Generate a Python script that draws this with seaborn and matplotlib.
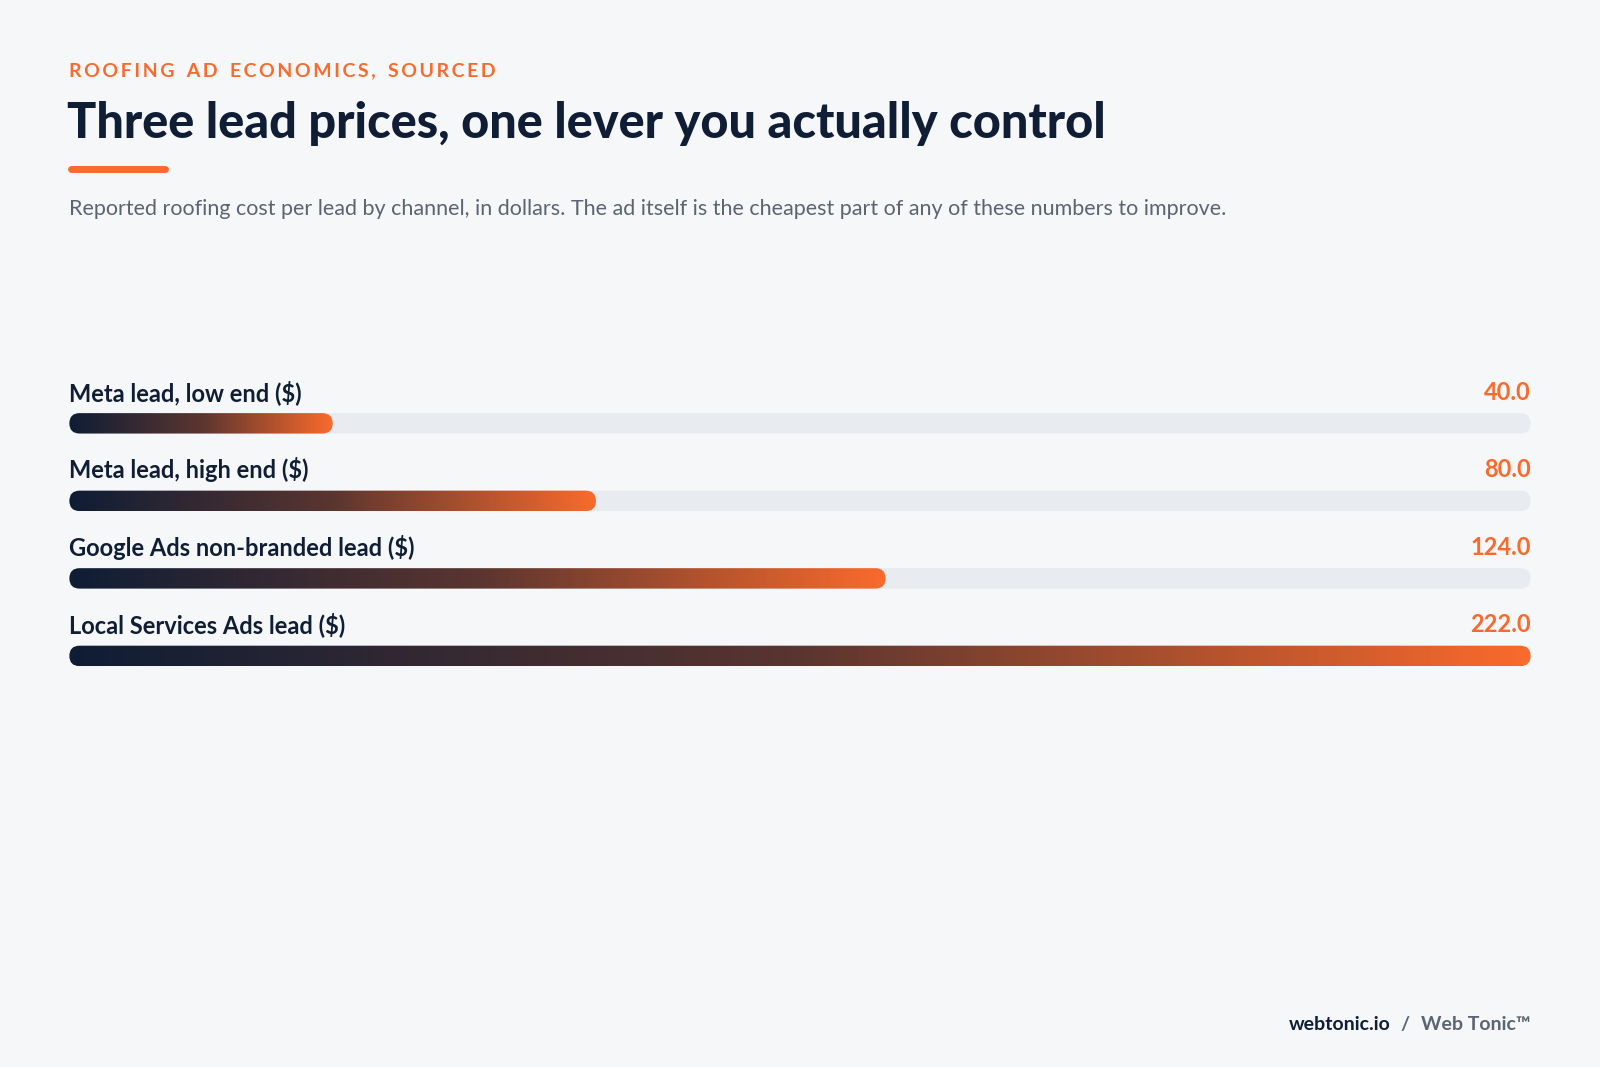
import numpy as np
import pandas as pd
import matplotlib.pyplot as plt
import seaborn as sns
from matplotlib.patches import FancyBboxPatch
from matplotlib.colors import LinearSegmentedColormap

# Data
channels = ["Meta lead, low end ($)", "Meta lead, high end ($)",
            "Google Ads non-branded lead ($)", "Local Services Ads lead ($)"]
cost = [40.0, 80.0, 124.0, 222.0]
axis_max = 222.0

NAVY = "#0f1d35"
ORANGE = "#f96a2c"
TRACK = "#e8ebef"
BG = "#f6f7f9"
GRAY = "#5b6472"

sns.set_theme(style="white")
plt.rcParams['font.family'] = ['Lato', 'DejaVu Sans']

fig = plt.figure(figsize=(16, 10.67), dpi=100, facecolor=BG)
W, H = 1568, 1046  # reference pixel frame
def fx(x): return x / W
def fy(y): return 1 - y / H

# header
kicker = "ROOFING AD ECONOMICS, SOURCED"
kicker = "\u2009".join(kicker).replace("\u2009 \u2009", "\u2002\u2009")
fig.text(fx(68), fy(69), kicker, color=ORANGE, fontsize=14, fontweight='bold', va='center')
fig.text(fx(66), fy(121), "Three lead prices, one lever you actually control",
         color=NAVY, fontsize=35, fontweight='black', va='center')
fig.add_artist(plt.Line2D([fx(70), fx(162)], [fy(166), fy(166)], color=ORANGE,
                          lw=5, solid_capstyle='round'))
fig.text(fx(68), fy(205), "Reported roofing cost per lead by channel, in dollars. The ad itself is the cheapest part of any of these numbers to improve.",
         color=GRAY, fontsize=15.5, va='center')
fig.text(fx(1500), fy(1004), "Web Tonic\u2122", color=GRAY, fontsize=14,
         fontweight='bold', ha='right', va='center')
fig.text(fx(1381), fy(1004), "/", color=GRAY, fontsize=14,
         fontweight='bold', ha='right', va='center')
fig.text(fx(1363), fy(1004), "webtonic.io", color=NAVY, fontsize=14,
         fontweight='bold', ha='right', va='center')

# bar axes: bar centres at y=415..643 in reference pixels
row = 76
top, bot = 415 - row / 2, 643 + row / 2
ax = fig.add_axes([fx(68), fy(bot), fx(1500) - fx(68), (bot - top) / H])
ax.set_facecolor('none')
df = pd.DataFrame({"channel": channels, "cost": cost})

ax.set_xlim(0, axis_max)
ax.set_ylim(len(channels) - 0.5, -0.5)
ax.axis('off')

fig.canvas.draw()
bb = ax.get_window_extent()
px_per_x = bb.width / axis_max
px_per_y = bb.height / len(channels)
bar_px = 20 * 1067 / 1046
bh = bar_px / px_per_y
rx = (bar_px / 2) / px_per_x
aspect = (bar_px / 2 / px_per_y) / rx

cmap = LinearSegmentedColormap.from_list("g", [NAVY, "#5a3530", ORANGE])
grad = np.linspace(0, 1, 256).reshape(1, -1)

for y, (lab, v) in enumerate(zip(df["channel"], df["cost"])):
    track = FancyBboxPatch((0, y - bh / 2), axis_max, bh,
                           boxstyle=f"round,pad=0,rounding_size={rx}",
                           mutation_aspect=aspect, fc=TRACK, ec='none')
    ax.add_patch(track)
    clip = FancyBboxPatch((0, y - bh / 2), v, bh,
                          boxstyle=f"round,pad=0,rounding_size={rx}",
                          mutation_aspect=aspect, fc='none', ec='none')
    ax.add_patch(clip)
    im = ax.imshow(grad, cmap=cmap, aspect='auto', extent=(0, v, y + bh / 2, y - bh / 2),
                   interpolation='bicubic', zorder=3)
    im.set_clip_path(clip)
    ax.text(0, y - 31 / px_per_y, lab, color=NAVY, fontsize=17, fontweight='bold',
            va='center', ha='left')
    ax.text(axis_max, y - 31 / px_per_y, f"{v:.1f}", color=ORANGE, fontsize=17,
            fontweight='bold', va='center', ha='right')

ax.set_xlim(0, axis_max)
ax.set_ylim(len(channels) - 0.5, -0.5)
fig.savefig("out.png", dpi=100, facecolor=BG)
